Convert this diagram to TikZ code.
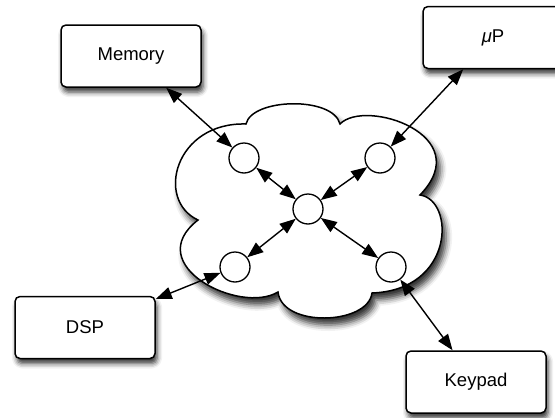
\documentclass[tikz,border=0pt]{standalone}
\usepackage{fontspec}
\setmainfont{Liberation Sans}
\usetikzlibrary{arrows.meta,shadows.blur}
\begin{document}
\begin{tikzpicture}[x=1pt,y=-1pt,
  box/.style={draw,line width=1.5pt,rounded corners=5pt,fill=white,
    minimum width=140pt,minimum height=62pt,inner sep=0pt,
    font=\fontsize{18.5}{22}\selectfont,
    blur shadow={shadow xshift=2pt,shadow yshift=-5pt,shadow blur radius=5pt,shadow opacity=80}},
  dot/.style={draw,circle,line width=1.3pt,fill=white,minimum size=30pt,inner sep=0pt},
  link/.style={line width=1.4pt,{Triangle[length=16pt,width=12pt,fill=black]}-{Triangle[length=16pt,width=12pt,fill=black]}},
  cloudline/.style={draw,line width=1.5pt,fill=white,
    blur shadow={shadow xshift=4pt,shadow yshift=-7pt,shadow blur radius=6pt,shadow opacity=80}}]
\useasboundingbox (0,0) rectangle (555,418);
\clip (0,0) rectangle (555,418);
% cloud
\path[cloudline] (246,124) .. controls (252,98) and (333,96) .. (340,124)
  .. controls (365,98) and (478,135) .. (420,195)
  .. controls (455,200) and (455,290) .. (372,293)
  .. controls (368,325) and (282,328) .. (278,292)
  .. controls (240,315) and (140,265) .. (198,220)
  .. controls (155,200) and (175,122) .. (246,124) -- cycle;
% inner circles
\node[dot] (c1) at (244,158) {};
\node[dot] (c2) at (380,158) {};
\node[dot] (c3) at (235,267) {};
\node[dot] (c4) at (391,267) {};
\node[dot] (c0) at (308,209) {};
% boxes
\node[box] (mem) at (131,56) {Memory};
\node[box] (up) at (493,37.5) {{\itshape μ}P};
\node[box] (dsp) at (85,327.5) {DSP};
\node[box] (key) at (476,382) {Keypad};
% connectors
\draw[link] (c1) -- (c0);
\draw[link] (c2) -- (c0);
\draw[link] (c3) -- (c0);
\draw[link] (c4) -- (c0);
\draw[link] (mem) -- (c1);
\draw[link] (up) -- (c2);
\draw[link] (dsp) -- (c3);
\draw[link] (key) -- (c4);
\end{tikzpicture}
\end{document}
